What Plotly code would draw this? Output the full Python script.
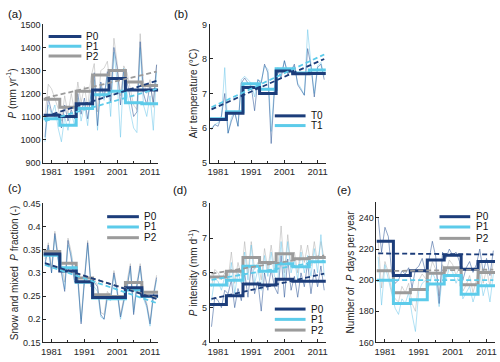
import plotly.graph_objects as go

W, H = 500, 362

years = list(range(1979, 2014))
period_edges = [1978.5, 1983.5, 1988.5, 1993.5, 1998.5, 2003.5, 2008.5, 2013.5]
trend_years = [1979, 2013]

# ---------------- (a) precipitation ----------------
a_P0 = [1010, 1180, 1120, 1100, 1115, 1050, 1150, 1080, 1130, 1090, 1200, 1110, 1180, 1090, 1195,
        1290, 1060, 1250, 1180, 1295, 1160, 1400, 1310, 1150, 1305, 1250, 1180, 1100, 1120, 1425,
        1200, 1150, 1240, 1160, 1325]
a_P1 = [990, 1150, 1110, 1150, 1050, 990, 1100, 1040, 1120, 1060, 1180, 1080, 1150, 1060, 1205,
        1260, 1040, 1230, 1170, 1275, 1100, 1380, 1250, 1010, 1310, 1200, 1120, 1050, 1030, 1400,
        1150, 1100, 1190, 1040, 1295]
a_P2 = [1100, 1240, 1220, 1180, 1135, 1080, 1190, 1110, 1200, 1120, 1250, 1160, 1230, 1140, 1270,
        1330, 1120, 1300, 1310, 1340, 1220, 1440, 1330, 1190, 1320, 1290, 1220, 1150, 1130, 1460,
        1250, 1200, 1260, 1140, 1325]
a_step_P0 = [1105, 1100, 1155, 1215, 1265, 1215, 1215]
a_step_P1 = [1090, 1062, 1135, 1195, 1210, 1160, 1155]
a_step_P2 = [1175, 1140, 1210, 1280, 1300, 1250, 1235]
a_trend_P0 = [1100, 1255]
a_trend_P1 = [1080, 1220]
a_trend_P2 = [1180, 1295]

# ---------------- (b) air temperature ----------------
b_T0 = [5.95, 6.1, 6.05, 6.35, 7.0, 5.85, 6.2, 6.45, 6.05, 7.3, 7.45, 7.3, 7.2, 6.5, 7.4,
        7.3, 7.85, 7.6, 5.55, 7.1, 7.65, 7.45, 7.95, 7.55, 7.65, 7.85, 7.25, 7.1, 6.95, 8.3,
        7.8, 6.9, 7.75, 7.85, 7.4]
b_T1 = [6.0, 6.1, 6.15, 6.3, 7.75, 5.85, 6.3, 6.5, 6.05, 7.4, 7.5, 7.4, 7.3, 6.9, 7.4,
        7.35, 7.8, 7.7, 5.9, 7.2, 7.75, 7.55, 7.95, 7.6, 7.7, 7.8, 7.3, 7.15, 6.95, 8.85,
        7.85, 7.0, 7.8, 7.9, 7.5]
b_step_T0 = [6.25, 6.43, 7.17, 7.0, 7.65, 7.57, 7.58]
b_step_T1 = [6.27, 6.47, 7.28, 7.12, 7.72, 7.59, 7.68]
b_trend_T0 = [6.54, 8.0]
b_trend_T1 = [6.6, 8.13]

# ---------------- (c) snow and mixed P fraction ----------------
c_P0 = [0.32, 0.36, 0.30, 0.385, 0.33, 0.30, 0.26, 0.37, 0.33, 0.28, 0.29, 0.19, 0.28, 0.365, 0.27,
        0.28, 0.27, 0.21, 0.20, 0.25, 0.245, 0.30, 0.26, 0.205, 0.24, 0.265, 0.315, 0.21, 0.27, 0.315,
        0.25, 0.23, 0.19, 0.25, 0.29]
c_P1 = [0.315, 0.355, 0.30, 0.38, 0.325, 0.31, 0.265, 0.36, 0.34, 0.285, 0.28, 0.195, 0.285, 0.36, 0.275,
        0.27, 0.26, 0.205, 0.20, 0.245, 0.24, 0.295, 0.255, 0.20, 0.235, 0.27, 0.31, 0.215, 0.275, 0.31,
        0.245, 0.225, 0.185, 0.245, 0.285]
c_P2 = [0.33, 0.365, 0.31, 0.39, 0.34, 0.32, 0.28, 0.375, 0.345, 0.295, 0.295, 0.20, 0.29, 0.37, 0.28,
        0.285, 0.275, 0.215, 0.21, 0.26, 0.25, 0.305, 0.265, 0.21, 0.245, 0.28, 0.32, 0.22, 0.28, 0.32,
        0.26, 0.235, 0.195, 0.255, 0.295]
c_step_P0 = [0.341, 0.304, 0.281, 0.247, 0.247, 0.268, 0.250]
c_step_P1 = [0.338, 0.311, 0.280, 0.246, 0.244, 0.263, 0.249]
c_step_P2 = [0.346, 0.321, 0.289, 0.253, 0.249, 0.279, 0.258]
c_trend_P0 = [0.321, 0.244]
c_trend_P1 = [0.317, 0.235]
c_trend_P2 = [0.319, 0.246]

# ---------------- (d) precipitation intensity ----------------
d_P0 = [4.45, 5.3, 5.2, 5.0, 5.5, 5.4, 5.8, 5.0, 5.55, 5.2, 6.0, 5.3, 6.2, 5.4, 5.75,
        4.9, 6.0, 5.5, 6.1, 5.6, 5.4, 6.5, 5.3, 6.4, 5.5, 5.9, 5.3, 6.0, 5.6, 6.3,
        5.4, 6.1, 5.6, 6.2, 5.5]
d_P1 = [5.2, 5.85, 5.75, 5.5, 5.9, 5.6, 6.3, 5.4, 6.0, 5.7, 6.6, 5.8, 6.8, 5.7, 6.1,
        5.5, 6.5, 5.9, 6.6, 5.9, 5.8, 6.9, 5.8, 6.9, 6.0, 6.4, 5.8, 6.6, 6.0, 6.5,
        5.9, 6.7, 6.0, 7.1, 5.9]
d_P2 = [5.6, 6.1, 6.0, 5.8, 6.0, 5.8, 6.6, 5.7, 6.3, 5.9, 6.9, 6.0, 6.9, 6.1, 6.3,
        5.8, 6.7, 6.1, 6.8, 6.1, 6.1, 7.35, 6.0, 7.1, 6.2, 6.6, 6.0, 6.8, 6.3, 6.8,
        6.2, 6.9, 6.3, 6.9, 6.4]
d_step_P0 = [5.09, 5.34, 5.68, 5.65, 5.82, 5.76, 5.76]
d_step_P1 = [5.65, 5.79, 6.19, 6.05, 6.26, 6.18, 6.32]
d_step_P2 = [5.88, 6.05, 6.44, 6.30, 6.55, 6.41, 6.44]
d_trend_P0 = [5.25, 5.98]
d_trend_P1 = [5.80, 6.35]
d_trend_P2 = [5.98, 6.50]

# ---------------- (e) number of P days ----------------
e_P0 = [240, 218, 234, 228, 205, 198, 200, 206, 204, 208, 195, 207, 209, 214, 205,
        213, 225, 215, 185, 218, 214, 220, 216, 218, 212, 200, 208, 212, 205, 210,
        220, 205, 214, 203, 219]
e_P1 = [215, 184, 210, 200, 191, 182, 178, 188, 185, 192, 178, 167, 193, 198, 200,
        196, 205, 200, 183, 204, 200, 208, 205, 198, 204, 188, 192, 196, 186, 193,
        205, 190, 198, 186, 204]
e_P2 = [225, 195, 212, 205, 193, 188, 186, 196, 192, 198, 185, 180, 200, 204, 201,
        203, 212, 207, 190, 210, 205, 213, 210, 203, 209, 193, 197, 203, 192, 200,
        212, 198, 207, 196, 212]
e_step_P0 = [225, 203, 206, 213, 216, 207, 212]
e_step_P1 = [200, 185, 187.5, 197.5, 203, 191, 196.5]
e_step_P2 = [206, 192, 194, 204.5, 208, 197, 205]
e_trend_P0 = [217.2, 216.5]
e_trend_P1 = [200.0, 200.0]
e_trend_P2 = [205.8, 206.8]

# tick labels
x_tickvals = [1981, 1991, 2001, 2011]
x_ticktext = ["1981", "1991", "2001", "2011"]

# ---------------- styling ----------------
DARK = "#1c3d7a"
CYAN = "#5ccbea"
GRAY = "#9b9b9b"
THIN = {"dark": "rgba(45,85,150,0.6)", "cyan": "rgba(110,200,235,0.6)", "gray": "rgba(170,170,170,0.55)"}
STEP = {"dark": DARK, "cyan": CYAN, "gray": GRAY}
AX = "#262626"
FONT = "Liberation Sans, Arial, sans-serif"

def px_x(p):
    return p / W

def px_y(p):
    return 1 - p / H

panels = [
    dict(key="a", ax=1, dom_x=(41.7, 157.5), dom_y=(20, 162), yr=[900, 1500], dtick=100,
         title="<i>P</i> (mm yr<sup>-1</sup>)",
         series=[("P0", "dark", a_P0, a_step_P0, a_trend_P0),
                 ("P1", "cyan", a_P1, a_step_P1, a_trend_P1),
                 ("P2", "gray", a_P2, a_step_P2, a_trend_P2)],
         legend=(47, 80, 83, [32.5, 42.5, 52.5]), label=(4, 9)),
    dict(key="b", ax=2, dom_x=(209.5, 326.5), dom_y=(20, 162), yr=[5, 9], dtick=1,
         title="Air temperature (°C)",
         series=[("T0", "dark", b_T0, b_step_T0, b_trend_T0),
                 ("T1", "cyan", b_T1, b_step_T1, b_trend_T1)],
         legend=(275, 306, 309, [114, 124]), label=(171, 9)),
    dict(key="c", ax=3, dom_x=(41.7, 157.5), dom_y=(204, 347), yr=[0.15, 0.45], dtick=0.05,
         title="Snow and mixed  <i>P</i> fraction (-)",
         series=[("P0", "dark", c_P0, c_step_P0, c_trend_P0),
                 ("P1", "cyan", c_P1, c_step_P1, c_trend_P1),
                 ("P2", "gray", c_P2, c_step_P2, c_trend_P2)],
         legend=(106, 138, 141, [217.7, 228.3, 239.3]), label=(4, 188)),
    dict(key="d", ax=4, dom_x=(209.5, 326.5), dom_y=(204, 347), yr=[4, 8], dtick=1,
         title="<i>P</i> intensity (mm d<sup>-1</sup>)",
         series=[("P0", "dark", d_P0, d_step_P0, d_trend_P0),
                 ("P1", "cyan", d_P1, d_step_P1, d_trend_P1),
                 ("P2", "gray", d_P2, d_step_P2, d_trend_P2)],
         legend=(275, 306, 309, [312.7, 323.3, 334.3]), label=(170, 190)),
    dict(key="e", ax=5, dom_x=(377.5, 497), dom_y=(203, 347), yr=[160, 250], dtick=20,
         title="Number of  <i>P</i> days per year",
         series=[("P0", "dark", e_P0, e_step_P0, e_trend_P0),
                 ("P1", "cyan", e_P1, e_step_P1, e_trend_P1),
                 ("P2", "gray", e_P2, e_step_P2, e_trend_P2)],
         legend=(441, 472, 476, [217.7, 228.3, 240]), label=(336, 190)),
]

fig = go.Figure()
shapes = []
annotations = []

for p in panels:
    n = p["ax"]
    xa = "x" if n == 1 else f"x{n}"
    ya = "y" if n == 1 else f"y{n}"
    ser = p["series"]
    # thin annual lines
    for name, c, annual, steps, trend in reversed(ser):
        fig.add_trace(go.Scatter(x=years, y=annual, mode="lines", xaxis=xa, yaxis=ya,
                                 line=dict(color=THIN[c], width=0.9), showlegend=False, hoverinfo="skip"))
    # step lines (period means)
    for name, c, annual, steps, trend in reversed(ser):
        fig.add_trace(go.Scatter(x=period_edges, y=steps + [steps[-1]], mode="lines",
                                 xaxis=xa, yaxis=ya, line=dict(color=STEP[c], width=3, shape="hv"),
                                 showlegend=False, name=name))
    # dashed trend lines
    for name, c, annual, steps, trend in reversed(ser):
        fig.add_trace(go.Scatter(x=trend_years, y=trend, mode="lines", xaxis=xa, yaxis=ya,
                                 line=dict(color=STEP[c], width=1.8, dash="5px,3px"),
                                 showlegend=False, hoverinfo="skip"))

    xkey = "xaxis" if n == 1 else f"xaxis{n}"
    ykey = "yaxis" if n == 1 else f"yaxis{n}"
    fig.update_layout(**{
        xkey: dict(domain=[px_x(p["dom_x"][0]), px_x(p["dom_x"][1])], anchor=ya,
                   range=[1978.5, 2013.5], tickvals=x_tickvals, ticktext=x_ticktext,
                   showline=True, linecolor=AX, linewidth=1, ticks="inside", ticklen=3,
                   tickcolor=AX, showgrid=False, zeroline=False,
                   minor=dict(tick0=1981, dtick=5, ticks="inside", ticklen=2, tickcolor=AX),
                   tickfont=dict(size=9.5, color=AX, family=FONT)),
        ykey: dict(domain=[px_y(p["dom_y"][1]), px_y(p["dom_y"][0])], anchor=xa,
                   range=p["yr"], dtick=p["dtick"], showline=True, linecolor=AX, linewidth=1,
                   ticks="inside", ticklen=3, tickcolor=AX, showgrid=False, zeroline=False,
                   tickfont=dict(size=9, color=AX, family=FONT),
                   title=dict(text=p["title"], font=dict(size=10, color=AX, family=FONT), standoff=2)),
    })

    # legend (drawn as line samples + labels)
    x0, x1, xt, ys = p["legend"]
    for (name, c, annual, steps, trend), yy in zip(ser, ys):
        shapes.append(dict(type="line", xref="paper", yref="paper",
                           x0=px_x(x0), x1=px_x(x1), y0=px_y(yy), y1=px_y(yy),
                           line=dict(color=STEP[c], width=3)))
        annotations.append(dict(text=name, xref="paper", yref="paper", x=px_x(xt), y=px_y(yy),
                                xanchor="left", yanchor="middle", showarrow=False,
                                font=dict(size=10, color="#111", family=FONT)))
    lx, ly = p["label"]
    annotations.append(dict(text=f"({p['key']})", xref="paper", yref="paper", x=px_x(lx), y=px_y(ly),
                            xanchor="left", yanchor="middle", showarrow=False,
                            font=dict(size=11.5, color="#111", family=FONT)))

fig.update_layout(width=W, height=H, margin=dict(l=0, r=0, t=0, b=0),
                  paper_bgcolor="white", plot_bgcolor="white",
                  shapes=shapes, annotations=annotations, showlegend=False,
                  font=dict(family=FONT))

fig.write_html("out.html", config={"displayModeBar": False},
               post_script="document.body.style.margin='0';document.body.style.overflow='hidden';")
